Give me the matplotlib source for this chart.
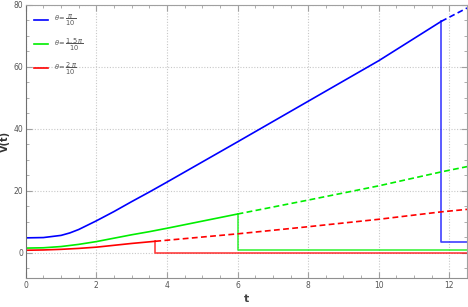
import numpy as np
import matplotlib
matplotlib.use("Agg")
from matplotlib import pyplot as plt
from matplotlib.ticker import MultipleLocator

# 读取的数据点 (从图上估计)
# theta = pi/10 (蓝)
t_blue = [0, 0.5, 1, 1.25, 1.5, 1.75, 2, 2.5, 3, 3.5, 4, 5, 6, 8, 10, 11.77]
v_blue = [4.8, 4.9, 5.6, 6.4, 7.5, 8.9, 10.3, 13.3, 16.5, 19.6, 22.8, 29.3, 35.8, 48.9, 62.0, 74.7]
t_blue_dash = [11.77, 12.5]
v_blue_dash = [74.7, 79.0]
t_blue_after = [11.77, 12.5]
v_blue_after = [3.5, 3.5]

# theta = 1.5pi/10 (绿)
t_green = [0, 0.5, 1, 1.5, 2, 2.5, 3, 3.5, 4, 5, 6]
v_green = [1.5, 1.6, 2.0, 2.7, 3.6, 4.7, 5.8, 6.8, 7.9, 10.2, 12.5]
t_green_dash = [6, 8, 10, 11.77, 12.5]
v_green_dash = [12.5, 17.0, 21.6, 26.1, 27.8]
t_green_after = [6, 12.5]
v_green_after = [0.8, 0.8]

# theta = 2pi/10 (红)
t_red = [0, 0.5, 1, 1.5, 2, 2.5, 3, 3.67]
v_red = [0.8, 0.9, 1.1, 1.4, 1.8, 2.4, 3.0, 3.7]
t_red_dash = [3.67, 6, 8, 10, 11.77, 12.5]
v_red_dash = [3.7, 6.1, 8.4, 10.8, 13.2, 14.0]
t_red_after = [3.67, 12.5]
v_red_after = [0.0, 0.0]

labels = [r"$\theta$= $\dfrac{\pi}{10}$", r"$\theta$= $\dfrac{1.5\,\pi}{10}$", r"$\theta$= $\dfrac{2\,\pi}{10}$"]

series = [
    ("#0000ff", t_blue, v_blue, t_blue_dash, v_blue_dash, t_blue_after, v_blue_after),
    ("#00ee00", t_green, v_green, t_green_dash, v_green_dash, t_green_after, v_green_after),
    ("#ff0000", t_red, v_red, t_red_dash, v_red_dash, t_red_after, v_red_after),
]

fig = plt.figure(figsize=(4.68, 3.07), dpi=100)
ax = fig.add_axes([0.055, 0.094, 0.943, 0.89])

for (c, t, v, td, vd, ta, va), lab in zip(series, labels):
    ax.plot(t, v, color=c, lw=1.2, label=lab)
    ax.plot(td, vd, color=c, lw=1.2, ls=(0, (3.5, 2)))
    # 跳变的竖线和之后的水平线
    ax.plot([t[-1], ta[0]] + ta[1:], [v[-1], va[0]] + va[1:], color=c, lw=1.2, alpha=0.75)

ax.set_xlim(0, 12.5)
ax.set_ylim(-8.2, 80)
ax.xaxis.set_major_locator(MultipleLocator(2))
ax.xaxis.set_minor_locator(MultipleLocator(0.5))
ax.yaxis.set_major_locator(MultipleLocator(20))
ax.yaxis.set_minor_locator(MultipleLocator(5))
ax.grid(True, which="major", color="#c8c8c8", ls=(0, (1, 1.5)), lw=0.8)

for s in ax.spines.values():
    s.set_color("#a0a0a0")
    s.set_linewidth(0.8)
ax.spines["left"].set_color("#707070")
ax.spines["bottom"].set_color("#909090")

ax.tick_params(which="both", direction="in", top=True, right=True, colors="#a0a0a0",
               labelcolor="#555555", labelsize=5.5, pad=2)
ax.tick_params(which="major", length=4)
ax.tick_params(which="minor", length=2)
ax.tick_params(axis="both", which="both", labeltop=False, labelright=False)

ax.set_xlabel("t", fontsize=8, color="#444444", fontweight="bold", labelpad=3)
ax.set_ylabel("V(t)", fontsize=7, color="#333333", fontweight="bold", labelpad=2)

leg = ax.legend(loc="upper left", frameon=False, fontsize=4.8, handlelength=2.1,
                labelspacing=1.25, handletextpad=0.9, borderaxespad=0.2,
                bbox_to_anchor=(0.01, 0.985))
for txt in leg.get_texts():
    txt.set_color("#555555")

plt.savefig("out.png", dpi=100)
